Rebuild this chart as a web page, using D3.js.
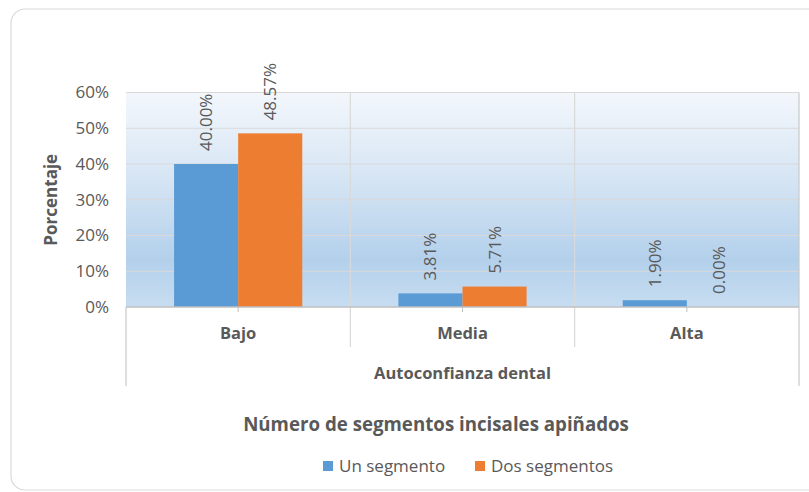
<!DOCTYPE html>
<html>
<head>
<meta charset="utf-8">
<script src="https://cdn.jsdelivr.net/npm/d3@7"></script>
<style>
    body { margin: 0; background: #ffffff; }
    svg { display: block; font-family: "Open Sans", sans-serif; }
</style>
</head>
<body>
<div id="barChart"></div>
<script>
// Chart data
const categories = ["Bajo", "Media", "Alta"];
const seriesNames = ["Un segmento", "Dos segmentos"];
const unSegmento = [40.00, 3.81, 1.90];
const dosSegmentos = [48.57, 5.71, 0.00];
const yTicks = [0, 10, 20, 30, 40, 50, 60];

const seriesColors = ["#5b9bd5", "#ed7d31"];

// Canvas and plot area
const totalWidth = 809;
const totalHeight = 492;
const plot = { left: 126, right: 799, top: 92.5, bottom: 307 };

function createBarChart() {

    const svg = d3.select("#barChart")
        .append("svg")
        .attr("width", totalWidth)
        .attr("height", totalHeight);

    // Chart frame with rounded corners
    svg.append("rect")
        .attr("x", 11)
        .attr("y", 9)
        .attr("width", 830)
        .attr("height", 481)
        .attr("rx", 14)
        .attr("fill", "#ffffff")
        .attr("stroke", "#d9d9d9")
        .attr("stroke-width", 1.2);

    // Gradient for the plot background
    const defs = svg.append("defs");
    const grad = defs.append("linearGradient")
        .attr("id", "plotBg")
        .attr("x1", 0).attr("y1", 0)
        .attr("x2", 0).attr("y2", 1);
    grad.append("stop").attr("offset", "0%").attr("stop-color", "#f3f7fc");
    grad.append("stop").attr("offset", "40%").attr("stop-color", "#d6e5f4");
    grad.append("stop").attr("offset", "78%").attr("stop-color", "#b3d0eb");
    grad.append("stop").attr("offset", "100%").attr("stop-color", "#c7ddf1");

    // Scales
    const xScale = d3.scaleBand()
        .domain(categories)
        .range([plot.left, plot.right])
        .paddingInner(0)
        .paddingOuter(0);

    const xSub = d3.scaleBand()
        .domain(seriesNames)
        .range([0, xScale.bandwidth()])
        .paddingInner(0)
        .paddingOuter(0.75);

    const yScale = d3.scaleLinear()
        .domain([0, 60])
        .range([plot.bottom, plot.top]);

    svg.append("rect")
        .attr("x", plot.left)
        .attr("y", plot.top)
        .attr("width", plot.right - plot.left)
        .attr("height", plot.bottom - plot.top)
        .attr("fill", "url(#plotBg)");

    // Horizontal gridlines
    svg.append("g")
        .selectAll("line")
        .data(yTicks.filter(d => d > 0))
        .join("line")
        .attr("x1", plot.left)
        .attr("x2", plot.right)
        .attr("y1", d => yScale(d))
        .attr("y2", d => yScale(d))
        .attr("stroke", "#d9d9d9")
        .attr("stroke-width", 1);

    // Vertical separators between categories (through plot and category area)
    const boundaries = categories.map(c => xScale(c)).concat([plot.right]);
    svg.append("g")
        .selectAll("line")
        .data(boundaries)
        .join("line")
        .attr("x1", d => d)
        .attr("x2", d => d)
        .attr("y1", (d, i) => i === 0 ? plot.bottom : plot.top)
        .attr("y2", (d, i) => (i === 0 || i === boundaries.length - 1) ? 386 : 347)
        .attr("stroke", (d, i) => (i === 0 || i === boundaries.length - 1) ? "#c8c8c8" : "#d9d9d9")
        .attr("stroke-width", 1.2);

    // Bars
    const rows = categories.map((c, i) => ({
        category: c,
        values: [unSegmento[i], dosSegmentos[i]]
    }));

    const groups = svg.append("g")
        .selectAll("g")
        .data(rows)
        .join("g")
        .attr("transform", d => `translate(${xScale(d.category)},0)`);

    groups.selectAll("rect")
        .data(d => d.values.map((v, j) => ({ series: seriesNames[j], value: v, idx: j })))
        .join("rect")
        .attr("x", d => xSub(d.series))
        .attr("y", d => yScale(d.value))
        .attr("width", xSub.bandwidth())
        .attr("height", d => yScale(0) - yScale(d.value))
        .attr("fill", d => seriesColors[d.idx]);

    // Data labels, rotated
    groups.selectAll("text")
        .data(d => d.values.map((v, j) => ({ series: seriesNames[j], value: v })))
        .join("text")
        .attr("transform", d => {
            const cx = xSub(d.series) + xSub.bandwidth() / 2 + 6;
            const cy = yScale(d.value) - 13;
            return `translate(${cx},${cy}) rotate(-90)`;
        })
        .attr("text-anchor", "start")
        .attr("font-size", 17)
        .attr("fill", "#595959")
        .text(d => d.value.toFixed(2) + "%");

    // X axis line with ticks at category centers
    svg.append("line")
        .attr("x1", plot.left)
        .attr("x2", plot.right)
        .attr("y1", plot.bottom)
        .attr("y2", plot.bottom)
        .attr("stroke", "#bfbfbf")
        .attr("stroke-width", 1.3);

    svg.append("g")
        .selectAll("line")
        .data(categories)
        .join("line")
        .attr("x1", d => xScale(d) + xScale.bandwidth() / 2)
        .attr("x2", d => xScale(d) + xScale.bandwidth() / 2)
        .attr("y1", plot.bottom)
        .attr("y2", plot.bottom + 5)
        .attr("stroke", "#bfbfbf");

    // Category labels
    svg.append("g")
        .selectAll("text")
        .data(categories)
        .join("text")
        .attr("x", d => xScale(d) + xScale.bandwidth() / 2)
        .attr("y", 339)
        .attr("text-anchor", "middle")
        .attr("font-size", 16.5)
        .attr("font-weight", "bold")
        .attr("fill", "#595959")
        .text(d => d);

    // Category group title
    svg.append("text")
        .attr("x", (plot.left + plot.right) / 2)
        .attr("y", 379)
        .attr("text-anchor", "middle")
        .attr("font-size", 16.5)
        .attr("font-weight", "bold")
        .attr("fill", "#595959")
        .text("Autoconfianza dental");

    // Y axis labels
    const yAxis = d3.axisLeft(yScale)
        .tickValues(yTicks)
        .tickFormat(d => d + "%")
        .tickSize(0)
        .tickPadding(17);

    const yG = svg.append("g")
        .attr("transform", `translate(${plot.left},0)`)
        .call(yAxis);
    yG.select(".domain").remove();
    yG.selectAll("text")
        .attr("font-family", "'Open Sans', sans-serif")
        .attr("font-size", 17)
        .attr("fill", "#595959");

    // Y axis title
    svg.append("text")
        .attr("transform", `translate(57,${(plot.top + plot.bottom) / 2}) rotate(-90)`)
        .attr("text-anchor", "middle")
        .attr("font-size", 17)
        .attr("font-weight", "bold")
        .attr("fill", "#595959")
        .text("Porcentaje");

    // Chart title at the bottom
    svg.append("text")
        .attr("x", 436)
        .attr("y", 431)
        .attr("text-anchor", "middle")
        .attr("font-size", 18.7)
        .attr("font-weight", "bold")
        .attr("fill", "#595959")
        .text("Número de segmentos incisales apiñados");

    // Legend
    const legendX = [323, 475];
    const legend = svg.append("g")
        .selectAll("g")
        .data(seriesNames)
        .join("g")
        .attr("transform", (d, i) => `translate(${legendX[i]},461)`);

    legend.append("rect")
        .attr("width", 10)
        .attr("height", 10)
        .attr("fill", (d, i) => seriesColors[i]);

    legend.append("text")
        .attr("x", 16)
        .attr("y", 10.5)
        .attr("font-size", 17)
        .attr("fill", "#595959")
        .text(d => d);
}

startDashboard = createBarChart;
startDashboard();
</script>
</body>
</html>
